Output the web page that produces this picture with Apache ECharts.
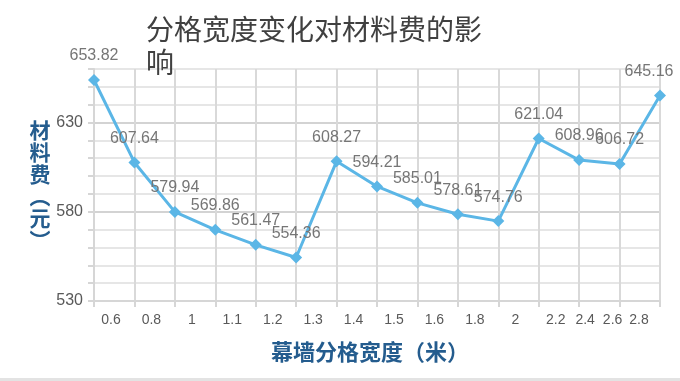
<!DOCTYPE html>
<html>
<head>
<meta charset="utf-8">
<script src="https://cdn.jsdelivr.net/npm/echarts@6/dist/echarts.min.js"></script>
<style>
html,body{margin:0;padding:0;background:#fff;}
#main{width:680px;height:381px;}
</style>
</head>
<body>
<div id="main"></div>
<script>
var titleText = '分格宽度变化对材料费的影响';
var xName = '幕墙分格宽度（米）';
var yName = '材料费︵元︶';
var categories = ['0.6','0.8','1','1.1','1.2','1.3','1.4','1.5','1.6','1.8','2','2.2','2.4','2.6','2.8'];
var costs = [653.82, 607.64, 579.94, 569.86, 561.47, 554.36, 608.27, 594.21, 585.01, 578.61, 574.76, 621.04, 608.96, 606.72, 645.16];
var yTicks = [530, 580, 630];

var chart = echarts.init(document.getElementById('main'), null, {renderer: 'canvas'});
var latin = '"Liberation Sans", Arial, sans-serif';
var cjk = '"Noto Sans CJK SC", sans-serif';

var seriesData = costs.map(function (v, i) {
  if (i === costs.length - 1) {
    return {value: v, label: {offset: [-11, 0]}};
  }
  return v;
});

var option = {
  backgroundColor: '#ffffff',
  animation: false,
  title: {
    text: titleText,
    left: 141,
    top: 8,
    textStyle: {
      fontFamily: cjk,
      fontSize: 28,
      fontWeight: 'normal',
      color: '#404040',
      width: 345,
      overflow: 'break',
      lineHeight: 33
    }
  },
  grid: {left: 94, right: 20, top: 69, bottom: 80, containLabel: false},
  xAxis: {
    type: 'category',
    data: categories,
    boundaryGap: false,
    name: xName,
    nameLocation: 'middle',
    nameGap: 40,
    nameTextStyle: {fontFamily: cjk, fontSize: 22, fontWeight: 'bold', color: '#245C8E', padding: [0, 14, 0, 0]},
    axisLine: {show: true, lineStyle: {color: '#d6d6d6', width: 2}},
    axisTick: {show: true, length: 6, alignWithLabel: true, lineStyle: {color: '#d6d6d6', width: 2}},
    splitLine: {show: true, lineStyle: {color: '#d9d9d9', width: 2}},
    axisLabel: {
      interval: 0,
      margin: 12,
      color: '#595959',
      fontFamily: latin,
      fontSize: 14,
      formatter: function (v, i) {
        var s = i < 12 ? 'a' : (i === 12 ? 'b' : (i === 13 ? 'c' : 'd'));
        return '{' + s + '|' + v + '}';
      },
      rich: {
        a: {padding: [0, 0, 0, 34], color: '#595959', fontSize: 14, fontFamily: latin},
        b: {padding: [0, 0, 0, 12], color: '#595959', fontSize: 14, fontFamily: latin},
        c: {padding: [0, 14, 0, 0], color: '#595959', fontSize: 14, fontFamily: latin},
        d: {padding: [0, 42, 0, 0], color: '#595959', fontSize: 14, fontFamily: latin}
      }
    }
  },
  yAxis: {
    type: 'value',
    min: 530,
    max: 660,
    interval: 10,
    name: yName.split('').join('\n'),
    nameLocation: 'middle',
    nameRotate: 0,
    nameGap: 52,
    nameTextStyle: {fontFamily: cjk, fontSize: 21, fontWeight: 'bold', color: '#245C8E', lineHeight: 22, align: 'center'},
    axisLine: {show: true, lineStyle: {color: '#d6d6d6', width: 2}},
    axisTick: {show: true, length: 6, lineStyle: {color: '#d6d6d6', width: 2}},
    splitLine: {show: true, lineStyle: {color: ['#d3d3d3', '#e6e6e6', '#e6e6e6', '#e6e6e6', '#e6e6e6'], width: 2}},
    axisLabel: {
      margin: 11,
      color: '#595959',
      fontFamily: latin,
      fontSize: 16,
      formatter: function (v) {
        return yTicks.indexOf(v) >= 0 ? String(v) : '';
      }
    }
  },
  series: [{
    type: 'line',
    data: seriesData,
    symbol: 'diamond',
    symbolSize: 12,
    lineStyle: {color: '#5BB6E6', width: 3},
    itemStyle: {color: '#5BB6E6'},
    label: {
      show: true,
      position: 'top',
      distance: 10,
      color: '#767676',
      fontFamily: latin,
      fontSize: 16,
      formatter: function (p) { return p.value.toFixed(2); }
    }
  }],
  graphic: [{
    type: 'rect',
    left: 0,
    bottom: 0,
    shape: {width: 680, height: 3},
    style: {fill: '#e3e3e3'},
    silent: true
  }]
};
chart.setOption(option);
</script>
</body>
</html>
